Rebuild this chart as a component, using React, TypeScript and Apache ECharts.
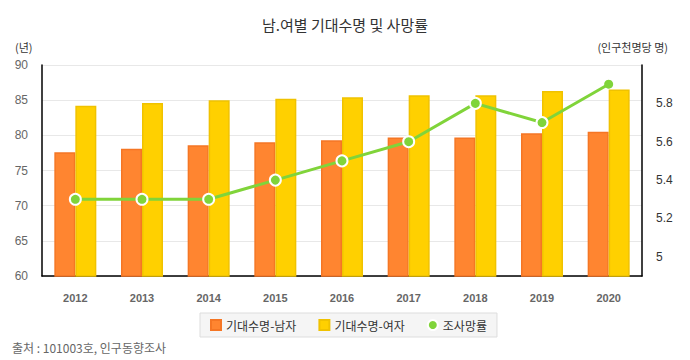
import React, { useEffect, useRef } from "react";
import * as echarts from "echarts";

const years = ["2012", "2013", "2014", "2015", "2016", "2017", "2018", "2019", "2020"];
const maleLife = [77.6, 78.1, 78.6, 79.0, 79.3, 79.7, 79.7, 80.3, 80.5];
const femaleLife = [84.2, 84.6, 85.0, 85.2, 85.4, 85.7, 85.7, 86.3, 86.5];
const deathRate = [5.3, 5.3, 5.3, 5.4, 5.5, 5.6, 5.8, 5.7, 5.9];
const rightTicks = [5, 5.2, 5.4, 5.6, 5.8];

const FONT = "Arial, 'Liberation Sans', 'Noto Sans CJK KR', sans-serif";
const KFONT = "'Noto Sans CJK KR', Arial, sans-serif";

export default function App() {
  const ref = useRef<HTMLDivElement>(null);
  useEffect(() => {
    if (!ref.current) return;
    const chart = echarts.init(ref.current, undefined, { renderer: "svg" });
    chart.setOption({
      animation: false,
      backgroundColor: "#ffffff",
      title: {
        text: "남.여별 기대수명 및 사망률",
        left: "center",
        top: 12,
        textStyle: { fontFamily: KFONT, fontSize: 15, fontWeight: "normal", color: "#333" },
      },
      graphic: [
        {
          type: "text",
          left: 12,
          top: 341,
          style: { text: "출처 : 101003호, 인구동향조사", fontFamily: KFONT, fontSize: 12, fill: "#666" },
        },
        {
          type: "text",
          left: 15,
          top: 41,
          style: { text: "(년)", fontFamily: KFONT, fontSize: 11, fill: "#333" },
        },
        {
          type: "text",
          right: 22,
          top: 41,
          style: { text: "(인구천명당 명)", fontFamily: KFONT, fontSize: 11, fill: "#333" },
        },
      ],
      legend: {
        left: 200,
        top: 313,
        width: 287,
        padding: [6, 10, 6, 10],
        backgroundColor: "#f5f5f5",
        borderColor: "#dddddd",
        borderWidth: 1,
        itemGap: 22,
        itemWidth: 10,
        itemHeight: 10,
        textStyle: { fontFamily: KFONT, fontSize: 12, color: "#333" },
        data: [
          { name: "기대수명-남자", icon: "rect" },
          { name: "기대수명-여자", icon: "rect" },
          { name: "조사망률", icon: "circle" },
        ],
      },
      grid: { left: 42, right: 48, top: 65, bottom: 84 },
      xAxis: {
        type: "category",
        data: years,
        axisLine: { lineStyle: { color: "#000", width: 1.5 } },
        axisTick: { show: false },
        axisLabel: { fontFamily: FONT, fontSize: 11, fontWeight: "bold", color: "#666", margin: 16 },
      },
      yAxis: [
        {
          type: "value",
          min: 60,
          max: 90,
          interval: 5,
          axisLine: { show: true, lineStyle: { color: "#000", width: 1.5 } },
          axisTick: { show: false },
          axisLabel: { fontFamily: FONT, fontSize: 12, color: "#666", margin: 14 },
          splitLine: { lineStyle: { color: "#e8e8e8" } },
        },
        {
          type: "value",
          min: 4.9,
          max: 6.0,
          axisLine: { show: true, lineStyle: { color: "#000", width: 1.5 } },
          axisTick: { show: false },
          axisLabel: {
            fontFamily: FONT,
            fontSize: 12,
            color: "#333",
            margin: 14,
            customValues: rightTicks,
            formatter: (v: number) => String(Math.round(v * 10) / 10),
          },
          splitLine: { show: false },
        },
      ],
      series: [
        {
          name: "기대수명-남자",
          type: "bar",
          data: maleLife,
          barWidth: 21,
          barGap: "0%",
          itemStyle: { color: "#FF8530", borderColor: "#F57624", borderWidth: 1.5 },
        },
        {
          name: "기대수명-여자",
          type: "bar",
          data: femaleLife,
          barWidth: 21,
          barGap: "0%",
          itemStyle: { color: "#FFD000", borderColor: "#F0C200", borderWidth: 1.5 },
        },
        {
          name: "조사망률",
          type: "line",
          yAxisIndex: 1,
          data: deathRate.map((v, i) =>
            i === deathRate.length - 1 ? { value: v, itemStyle: { borderWidth: 0 }, symbolSize: 9 } : v
          ),
          symbol: "circle",
          symbolSize: 11,
          lineStyle: { color: "#80D43A", width: 3 },
          itemStyle: { color: "#80D43A", borderColor: "#ffffff", borderWidth: 2 },
          z: 5,
        },
      ],
    });
    return () => chart.dispose();
  }, []);
  return (
    <div
      ref={ref}
      style={{ position: "absolute", left: 0, top: 0, width: 690, height: 360 }}
    />
  );
}
